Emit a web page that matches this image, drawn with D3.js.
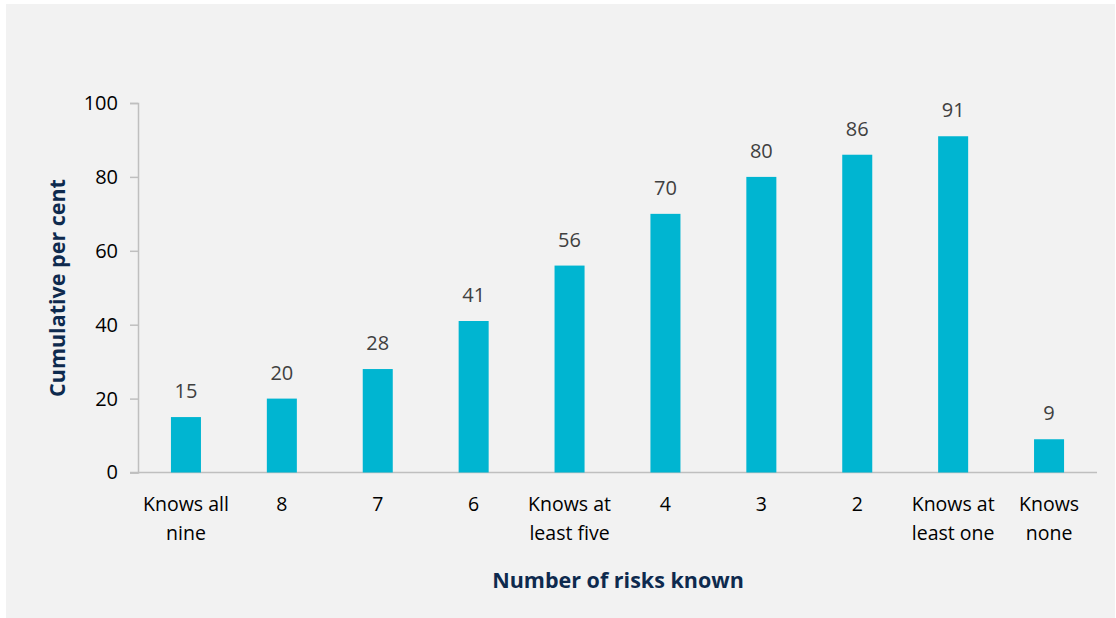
<!DOCTYPE html>
<html><head><meta charset="utf-8">
<script src="https://cdn.jsdelivr.net/npm/d3@7"></script>
<style>body{margin:0;background:#fff}svg{display:block}</style>
</head><body>
<script>
const categories = [["Knows all","nine"],["8"],["7"],["6"],["Knows at","least five"],["4"],["3"],["2"],["Knows at","least one"],["Knows","none"]];
const values = [15,20,28,41,56,70,80,86,91,9];
const yTicks = [0,20,40,60,80,100];
const yTitle = "Cumulative per cent";
const xTitle = "Number of risks known";

const W=1116,H=618;
const svg=d3.select("body").append("svg").attr("width",W).attr("height",H);
const font="'Open Sans', sans-serif";
svg.append("rect").attr("x",6).attr("y",4).attr("width",W-7).attr("height",H-4).attr("fill","#f2f2f2");

const x0=138,x1=1097,yTop=103,yBot=472.5;
const x=d3.scaleBand().domain(d3.range(values.length)).range([x0,x1]).paddingInner(0.687).paddingOuter(0.3435);
const y=d3.scaleLinear().domain([0,100]).range([yBot,yTop]);

const yAxis=svg.append("g").attr("transform",`translate(${x0},0)`)
  .call(d3.axisLeft(y).tickValues(yTicks).tickSize(8).tickPadding(12));
yAxis.select(".domain").attr("stroke","#bfbfbf").attr("stroke-width",1.5);
yAxis.selectAll(".tick line").attr("stroke","#bfbfbf").attr("stroke-width",1.5);
yAxis.selectAll(".tick text").attr("font-family",font).attr("font-size",20).attr("fill","#000");

svg.append("line").attr("x1",x0-8).attr("x2",x1).attr("y1",yBot).attr("y2",yBot).attr("stroke","#bfbfbf").attr("stroke-width",1.5);

svg.selectAll("rect.bar").data(values).enter().append("rect").attr("class","bar")
  .attr("x",(d,i)=>x(i)).attr("width",x.bandwidth())
  .attr("y",d=>y(d)).attr("height",d=>yBot-y(d)).attr("fill","#00b5d1");

svg.selectAll("text.val").data(values).enter().append("text").attr("class","val")
  .attr("x",(d,i)=>x(i)+x.bandwidth()/2).attr("y",d=>y(d)-19)
  .attr("text-anchor","middle").attr("font-family",font).attr("font-size",20).attr("fill","#404040").text(d=>d);

const cl=svg.selectAll("text.cat").data(categories).enter().append("text").attr("class","cat")
  .attr("text-anchor","middle").attr("font-family",font).attr("font-size",19.5).attr("fill","#000");
cl.each(function(lines,i){
  const t=d3.select(this);
  lines.forEach((l,j)=>t.append("tspan").attr("x",x(i)+x.bandwidth()/2).attr("y",511+j*29).text(l));
});

svg.append("text").attr("x",618).attr("y",588).attr("text-anchor","middle")
  .attr("font-family",font).attr("font-weight","bold").attr("font-size",21.5).attr("fill","#0e2a4e").text(xTitle);
svg.append("text").attr("transform","translate(65,288) rotate(-90)").attr("text-anchor","middle")
  .attr("font-family",font).attr("font-weight","bold").attr("font-size",21.5).attr("fill","#0e2a4e").text(yTitle);
</script>
</body></html>
